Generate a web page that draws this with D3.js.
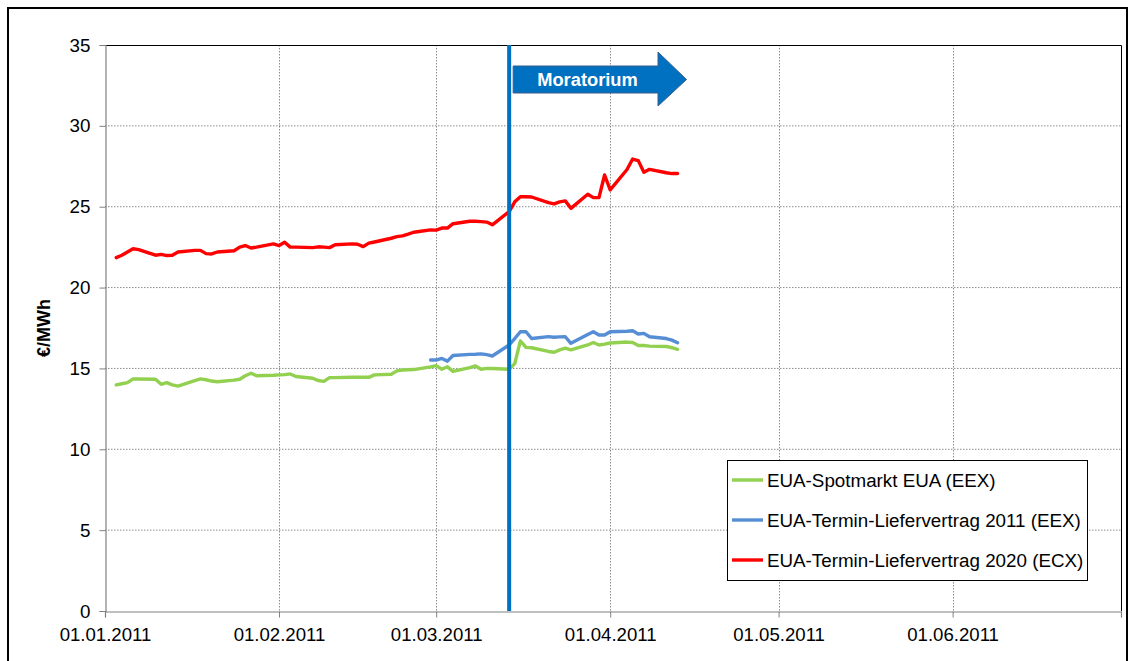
<!DOCTYPE html>
<html>
<head>
<meta charset="utf-8">
<script src="https://cdn.jsdelivr.net/npm/d3@7"></script>
<style>
  html, body { margin: 0; padding: 0; background: #fff; }
  svg { display: block; font-family: "Liberation Sans", Arial, sans-serif; }
</style>
</head>
<body>
<svg id="chart" width="1133" height="661"></svg>
<script>
// ---- DATA ----
const dates = [
  "2011-01-03","2011-01-04","2011-01-05","2011-01-06","2011-01-07","2011-01-10","2011-01-11","2011-01-12","2011-01-13","2011-01-14",
  "2011-01-17","2011-01-18","2011-01-19","2011-01-20","2011-01-21","2011-01-24","2011-01-25","2011-01-26","2011-01-27","2011-01-28","2011-01-31",
  "2011-02-01","2011-02-02","2011-02-03","2011-02-04","2011-02-07","2011-02-08","2011-02-09","2011-02-10","2011-02-11",
  "2011-02-14","2011-02-15","2011-02-16","2011-02-17","2011-02-18","2011-02-21","2011-02-22","2011-02-23","2011-02-24","2011-02-25","2011-02-28",
  "2011-03-01","2011-03-02","2011-03-03","2011-03-04","2011-03-07","2011-03-08","2011-03-09","2011-03-10","2011-03-11",
  "2011-03-14","2011-03-15","2011-03-16","2011-03-17","2011-03-18","2011-03-21","2011-03-22","2011-03-23","2011-03-24","2011-03-25",
  "2011-03-28","2011-03-29","2011-03-30","2011-03-31",
  "2011-04-01","2011-04-04","2011-04-05","2011-04-06","2011-04-07","2011-04-08","2011-04-11","2011-04-12","2011-04-13"
];

const spotEUA = [
  13.98,14.05,14.12,14.35,14.35,14.33,14.02,14.12,13.98,13.91,
  14.25,14.35,14.30,14.22,14.18,14.28,14.33,14.55,14.70,14.55,14.58,
  14.60,14.62,14.66,14.50,14.39,14.25,14.20,14.43,14.43,
  14.45,14.45,14.45,14.45,14.60,14.64,14.85,14.90,14.92,14.93,15.10,
  15.17,14.95,15.10,14.82,15.05,15.15,14.95,15.00,15.00,
  14.95,15.30,16.70,16.30,16.28,16.05,16.00,16.15,16.25,16.15,
  16.45,16.60,16.45,16.50,
  16.57,16.63,16.60,16.42,16.42,16.38,16.36,16.28,16.18
];

const termin2011 = [
  null,null,null,null,null,null,null,null,null,null,
  null,null,null,null,null,null,null,null,null,null,null,
  null,null,null,null,null,null,null,null,null,
  null,null,null,null,null,null,null,null,null,null,15.52,
  15.52,15.62,15.45,15.80,15.87,15.88,15.90,15.85,15.77,
  16.45,16.85,17.27,17.27,16.85,16.97,16.93,16.95,16.96,16.55,
  17.10,17.27,17.07,17.07,
  17.27,17.30,17.33,17.13,17.17,16.96,16.85,16.75,16.59
];

const termin2020 = [
  21.85,22.00,22.20,22.40,22.35,22.00,22.05,21.98,22.00,22.20,
  22.30,22.30,22.10,22.08,22.20,22.28,22.50,22.60,22.45,22.50,22.70,
  22.60,22.80,22.50,22.50,22.47,22.52,22.50,22.47,22.65,
  22.70,22.68,22.53,22.75,22.82,23.05,23.15,23.20,23.30,23.42,23.57,
  23.55,23.68,23.68,23.95,24.10,24.10,24.08,24.05,23.88,
  24.70,25.30,25.62,25.62,25.60,25.25,25.17,25.30,25.36,24.90,
  25.77,25.56,25.56,26.96,
  26.04,27.30,27.95,27.85,27.13,27.31,27.10,27.05,27.05
];

const seriesNames = [
  "EUA-Spotmarkt EUA (EEX)",
  "EUA-Termin-Liefervertrag 2011 (EEX)",
  "EUA-Termin-Liefervertrag 2020 (ECX)"
];
const seriesColors = ["#92D050", "#558ED5", "#FF0000"];

const xTickDates = ["2011-01-01","2011-02-01","2011-03-01","2011-04-01","2011-05-01","2011-06-01","2011-07-01"];
const xTickLabels = ["01.01.2011","01.02.2011","01.03.2011","01.04.2011","01.05.2011","01.06.2011",""];
const yTicks = [0, 5, 10, 15, 20, 25, 30, 35];
const yTitle = "€/MWh";
const moratoriumDate = "2011-03-14";
const moratoriumLabel = "Moratorium";

// ---- CHART ----
const parse = d3.timeParse("%Y-%m-%d");
const svg = d3.select("#chart");

const L = 105, R = 1121, T = 45, B = 611;

const x = d3.scaleTime().domain([parse("2011-01-01"), parse("2011-07-01")]).range([L, R]);
const y = d3.scaleLinear().domain([0, 35]).range([B, T]);

// outer frame
svg.append("rect").attr("x", 8).attr("y", 8).attr("width", 1119).attr("height", 670)
  .attr("fill", "#fff").attr("stroke", "#000").attr("stroke-width", 2);

// gridlines horizontal
svg.append("g").selectAll("line").data(yTicks.filter(v => v > 0 && v < 35)).join("line")
  .attr("x1", L).attr("x2", R).attr("y1", d => y(d)).attr("y2", d => y(d))
  .attr("stroke", "#8c8c8c").attr("stroke-width", 1).attr("stroke-dasharray", "1.5,1.5");

// gridlines vertical
svg.append("g").selectAll("line").data(xTickDates.slice(1, -1)).join("line")
  .attr("x1", d => Math.round(x(parse(d))) + 0.5).attr("x2", d => Math.round(x(parse(d))) + 0.5)
  .attr("y1", T).attr("y2", B)
  .attr("stroke", "#8c8c8c").attr("stroke-width", 1).attr("stroke-dasharray", "1.5,1.5");

// plot area border top & right
svg.append("path").attr("d", `M${L},${T + 0.5}H${R + 0.5}V${B}`)
  .attr("fill", "none").attr("stroke", "#000").attr("stroke-width", 1);

// y axis
const yAxis = d3.axisLeft(y).tickValues(yTicks).tickSize(6).tickPadding(9).tickFormat(d3.format("d"));
const gy = svg.append("g").attr("transform", `translate(${L + 0.5},0)`).call(yAxis);
gy.select(".domain").attr("stroke", "#808080").attr("stroke-width", 1.2);
gy.selectAll(".tick line").attr("stroke", "#808080");
gy.selectAll(".tick text").attr("font-size", 18.8).attr("fill", "#000")
  .attr("font-family", "'Liberation Sans', Arial, sans-serif");

// x axis
const xAxis = d3.axisBottom(x).tickValues(xTickDates.map(parse)).tickSize(6).tickPadding(10)
  .tickFormat((d, i) => xTickLabels[i]);
const gx = svg.append("g").attr("transform", `translate(0,${B + 0.5})`).call(xAxis);
gx.select(".domain").attr("stroke", "#808080").attr("stroke-width", 1.2);
gx.selectAll(".tick line").attr("stroke", "#808080");
gx.selectAll(".tick text").attr("font-size", 18.6).attr("fill", "#000")
  .attr("font-family", "'Liberation Sans', Arial, sans-serif");

// y title
svg.append("text").attr("transform", `translate(50,${(T + B) / 2}) rotate(-90)`)
  .attr("text-anchor", "middle").attr("font-weight", "bold").attr("font-size", 18)
  .text(yTitle);

// series lines
const seriesData = [spotEUA, termin2011, termin2020];
const line = d3.line()
  .defined(d => d.v != null)
  .x(d => x(d.date))
  .y(d => y(d.v));
seriesData.forEach((vals, i) => {
  const pts = dates.map((d, j) => ({ date: parse(d), v: vals[j] }));
  svg.append("path").datum(pts).attr("d", line)
    .attr("fill", "none").attr("stroke", seriesColors[i]).attr("stroke-width", 3.4)
    .attr("stroke-linejoin", "round").attr("stroke-linecap", "round");
});

// moratorium vertical line
const mx = x(parse(moratoriumDate));
svg.append("line").attr("x1", mx).attr("x2", mx).attr("y1", T).attr("y2", B)
  .attr("stroke", "#0070C0").attr("stroke-width", 4);

// arrow
const ax0 = mx + 4, axHead = 658, axTip = 686.5;
const ayTop = 66, ayBot = 93, ayHeadTop = 52, ayHeadBot = 106, ayMid = 79.5;
svg.append("path")
  .attr("d", `M${ax0},${ayTop}H${axHead}V${ayHeadTop}L${axTip},${ayMid}L${axHead},${ayHeadBot}V${ayBot}H${ax0}Z`)
  .attr("fill", "#0070C0").attr("stroke", "#3A5F8C").attr("stroke-width", 1);
svg.append("text").attr("x", 587.5).attr("y", 85.5).attr("text-anchor", "middle")
  .attr("fill", "#fff").attr("font-weight", "bold").attr("font-size", 18.3)
  .text(moratoriumLabel);

// legend
const lg = svg.append("g");
lg.append("rect").attr("x", 727.5).attr("y", 460.5).attr("width", 360).attr("height", 120)
  .attr("fill", "#fff").attr("stroke", "#000").attr("stroke-width", 1);
seriesNames.forEach((name, i) => {
  const yy = 480 + i * 40;
  lg.append("line").attr("x1", 732).attr("x2", 763).attr("y1", yy).attr("y2", yy)
    .attr("stroke", seriesColors[i]).attr("stroke-width", 3.4);
  lg.append("text").attr("x", 767).attr("y", yy + 6.8).attr("font-size", 18.8).attr("fill", "#000")
    .text(name);
});
</script>
</body>
</html>
